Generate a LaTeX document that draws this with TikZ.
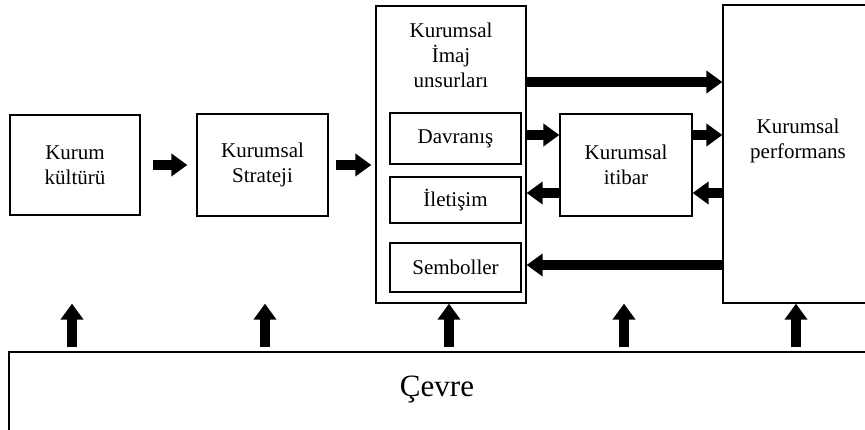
\documentclass[tikz,border=0pt]{standalone}
\usepackage{fontspec}
\setmainfont{Liberation Serif}
\usetikzlibrary{arrows.meta}

\begin{document}
\begin{tikzpicture}[x=1pt, y=-1pt,
    box/.style = {draw, line width=1.3pt, align=center, inner sep=0pt,
                  font=\fontsize{21}{25}\selectfont},
    fat/.style = {line width=9.5pt, -{Triangle[length=16pt,width=22pt]}}]
            \useasboundingbox (0,0) rectangle (865,430);

            % main row
            \node[box, minimum width=130, minimum height=100] (kultur) at (75,165) {Kurum\\kültürü};
            \node[box, minimum width=131, minimum height=102] (strateji) at (262.5,165) {Kurumsal\\Strateji};

            \node[box, minimum width=150, minimum height=297] (imaj) at (451,154.5) {};
            \node[align=center, font=\fontsize{21}{25}\selectfont] (imajtitle) at (451,55) {Kurumsal\\İmaj\\unsurları};

            \node[box, minimum width=131, minimum height=51] (davranis) at (455.5,138.5) {Davranış};
            \node[box, minimum width=131, minimum height=46] (iletisim) at (455.5,200) {İletişim};
            \node[box, minimum width=131, minimum height=49] (semboller) at (455.5,267.5) {Semboller};

            \node[box, minimum width=132, minimum height=102] (itibar) at (626,165) {Kurumsal\\itibar};

            \node[box, minimum width=180, minimum height=298] (perf) at (813,154) {};
            \node[align=center, font=\fontsize{21}{25}\selectfont] (perftext) at (798,141) {Kurumsal\\performans};

            \node[box, minimum width=890, minimum height=100] (cevre) at (454,402) {};
            \node[font=\fontsize{31}{36}\selectfont] (cevretext) at (437,390) {Çevre};

            % flows
            \draw[fat, shorten <=12pt, shorten >=9pt] (kultur) -- (strateji);
            \draw[fat, shorten <=7pt, shorten >=4pt] (strateji.east) -- (strateji.east -| imaj.west);
            \draw[fat] ([yshift=72.5pt]imaj.east) -- ([yshift=72.5pt]imaj.east -| perf.west);

            \draw[fat] ([yshift=3.5pt]davranis.east -| imaj.east) -- ([yshift=3.5pt]davranis.east -| itibar.west);
            \draw[fat] ([yshift=3.5pt]davranis.east -| itibar.east) -- ([yshift=3.5pt]davranis.east -| perf.west);
            \draw[fat] ([yshift=7pt]iletisim.east -| perf.west) -- ([yshift=7pt]iletisim.east -| itibar.east);
            \draw[fat] ([yshift=7pt]iletisim.east -| itibar.west) -- ([yshift=7pt]iletisim.east -| imaj.east);
            \draw[fat] ([yshift=2.5pt]semboller.east -| perf.west) -- ([yshift=2.5pt]semboller.east -| imaj.east);

            % environment
            \foreach \n/\x in {kultur/72, strateji/265, imaj/449, itibar/624, perf/796}
                \draw[fat, shorten <=4pt] (cevre.north -| \x,0) -- (imaj.south -| \x,0);
        \end{tikzpicture}
\end{document}
